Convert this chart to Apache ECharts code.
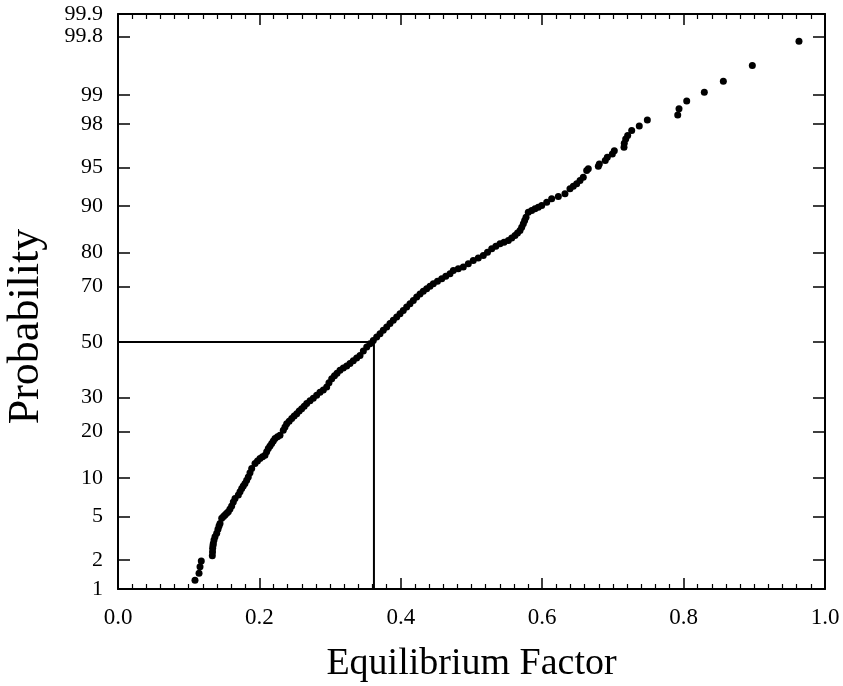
<!DOCTYPE html>
<html>
<head>
<meta charset="utf-8">
<script src="https://cdn.jsdelivr.net/npm/echarts@6/dist/echarts.min.js"></script>
<style>html,body{margin:0;padding:0;background:#fff;}#chart{width:843px;height:686px;}</style>
</head>
<body>
<div id="chart"></div>
<script>
// Equilibrium factor values (x) and cumulative probability in percent (y)
var factor = [
0.1089,0.1146,0.1160,0.1178,
0.1334,0.1337,0.1339,0.1344,0.1348,0.1358,0.1372,0.1396,0.1414,0.1429,
0.1443,0.1467,0.1492,0.1513,0.1537,0.1560,0.1584,0.1608,0.1631,0.1655,
0.1702,0.1726,0.1750,0.1772,0.1796,0.1820,0.1843,0.1867,0.1891,0.1938,
0.1973,0.2008,0.2044,0.2079,0.2103,0.2126,0.2150,0.2174,0.2197,0.2221,
0.2256,0.2291,0.2338,0.2362,0.2386,0.2421,0.2457,0.2492,0.2528,0.2563,
0.2598,0.2634,0.2669,0.2716,0.2762,0.2810,0.2857,0.2904,0.2952,0.2984,
0.3023,0.3062,0.3098,0.3140,0.3187,0.3235,0.3281,0.3328,0.3376,0.3423,
0.3470,0.3518,0.3564,0.3611,0.3659,0.3706,0.3752,0.3801,0.3847,0.3894,
0.3942,0.3989,0.4035,0.4083,0.4130,0.4177,0.4225,0.4272,0.4318,0.4366,
0.4413,0.4460,0.4519,0.4579,0.4636,0.4696,0.4743,0.4813,0.4884,0.4955,
0.5025,0.5096,0.5167,0.5226,0.5286,0.5344,0.5403,0.5460,0.5521,0.5569,
0.5615,0.5651,0.5686,0.5710,0.5733,0.5752,0.5771,0.5803,0.5851,0.5898,
0.5945,0.5993,0.6064,0.6134,0.6228,0.6322,0.6393,0.6440,0.6488,0.6535,
0.6581,0.6629,
0.6652,0.6794,0.6808,0.6892,0.6921,0.6992,0.7020,0.7157,0.7161,0.7181,
0.7209,0.7266,0.7373,0.7487,0.7917,0.7935,0.8044,0.8293,0.8562,0.8972,
0.9632
];
var probability = [
1.24,1.47,1.71,1.96,
2.21,2.40,2.60,2.76,2.89,3.11,3.33,3.58,3.90,4.15,
4.38,4.84,5.01,5.16,5.33,5.49,5.78,6.11,6.58,7.04,
7.47,7.91,8.40,8.76,9.14,9.66,10.2,10.93,11.68,12.63,
13.13,13.63,13.98,14.32,15.06,15.80,16.38,16.96,17.57,18.17,
18.59,19.0,20.3,21.2,22.1,22.8,23.6,24.3,25.0,25.8,
26.5,27.3,28.1,29.0,29.8,30.8,31.8,32.6,33.6,35.1,
36.5,37.5,38.4,39.5,40.3,41.1,42.0,43.0,44.0,45.0,
46.6,48.1,49.4,50.6,51.9,53.1,54.4,55.6,56.9,58.1,
59.3,60.5,61.7,62.9,64.1,65.2,66.4,67.5,68.4,69.2,
70.06,70.85,71.67,72.45,73.24,74.0,75.0,75.5,76.0,76.96,
77.9,78.58,79.27,80.14,81.03,81.65,82.27,82.66,83.07,83.65,
84.23,84.78,85.33,86.04,86.74,87.39,88.02,88.94,89.23,89.53,
89.80,90.08,90.61,91.13,91.48,91.87,92.55,92.88,93.19,93.59,
93.97,94.69,
94.86,95.11,95.33,95.63,95.91,96.18,96.43,96.67,96.94,97.21,
97.41,97.69,97.91,98.18,98.38,98.60,98.84,99.07,99.30,99.54,
99.77
];
// Median marker (50 % probability)
var medianFactor = 0.362;
var medianProbability = 50;
// Probability-axis tick labels (percent)
var probTicks = [1, 2, 5, 10, 20, 30, 50, 70, 80, 90, 95, 98, 99, 99.8, 99.9];
var probTickLabels = ['1','2','5','10','20','30','50','70','80','90','95','98','99','99.8','99.9'];
var probMin = 1, probMax = 99.9;

// inverse standard normal CDF (probability scale transform)
function probit(p) {
  var a=[-3.969683028665376e+01,2.209460984245205e+02,-2.759285104469687e+02,1.383577518672690e+02,-3.066479806614716e+01,2.506628277459239e+00];
  var b=[-5.447609879822406e+01,1.615858368580409e+02,-1.556989798598866e+02,6.680131188771972e+01,-1.328068155288572e+01];
  var c=[-7.784894002430293e-03,-3.223964580411365e-01,-2.400758277161838e+00,-2.549732539343734e+00,4.374664141464968e+00,2.938163982698783e+00];
  var d=[7.784695709041462e-03,3.224671290700398e-01,2.445134137142996e+00,3.754408661907416e+00];
  var pl=0.02425, q, r;
  if (p < pl) { q=Math.sqrt(-2*Math.log(p)); return (((((c[0]*q+c[1])*q+c[2])*q+c[3])*q+c[4])*q+c[5])/((((d[0]*q+d[1])*q+d[2])*q+d[3])*q+1); }
  if (p <= 1-pl) { q=p-0.5; r=q*q; return (((((a[0]*r+a[1])*r+a[2])*r+a[3])*r+a[4])*r+a[5])*q/(((((b[0]*r+b[1])*r+b[2])*r+b[3])*r+b[4])*r+1); }
  q=Math.sqrt(-2*Math.log(1-p)); return -(((((c[0]*q+c[1])*q+c[2])*q+c[3])*q+c[4])*q+c[5])/((((d[0]*q+d[1])*q+d[2])*q+d[3])*q+1);
}
function pz(pct){ return probit(pct/100); }

var tickZ = probTicks.map(pz);
var zMin = pz(probMin), zMax = pz(probMax);
function zLabel(v){
  for (var i=0;i<tickZ.length;i++){ if (Math.abs(tickZ[i]-v)<1e-6) return probTickLabels[i]; }
  return '';
}
var points = factor.map(function(f,i){ return [f, pz(probability[i])]; });
var dropLine = [[0, pz(medianProbability)], [medianFactor, pz(medianProbability)], [medianFactor, zMin]];

var serif = '"Liberation Serif","Times New Roman",serif';
var chart = echarts.init(document.getElementById('chart'), null, {renderer:'canvas'});
var xCommon = {
  type:'value', min:0, max:1, interval:0.2,
  axisLine:{show:true, onZero:false, lineStyle:{color:'#000', width:2}},
  axisTick:{show:true, inside:true, length:11, lineStyle:{color:'#000', width:1.5}},
  minorTick:{show:true, splitNumber:10, length:5, lineStyle:{color:'#000', width:1.2}},
  splitLine:{show:false}
};
var yCommon = {
  type:'value', min:zMin, max:zMax,
  axisLine:{show:true, onZero:false, lineStyle:{color:'#000', width:2}},
  axisTick:{show:true, inside:true, length:12, customValues:tickZ, lineStyle:{color:'#000', width:1.5}},
  splitLine:{show:false}
};
chart.setOption({
  animation:false,
  backgroundColor:'#fff',
  grid:{left:118, right:18, top:14, bottom:97, containLabel:false, outerBoundsMode:'none'},
  xAxis:[
    Object.assign({}, xCommon, {
      position:'bottom',
      name:'Equilibrium Factor', nameLocation:'middle', nameGap:56,
      nameTextStyle:{fontFamily:serif, fontSize:38, color:'#000'},
      axisLabel:{show:true, margin:17, fontFamily:serif, fontSize:23, color:'#000',
        showMinLabel:true, showMaxLabel:true, hideOverlap:false,
        formatter:function(v){ return v.toFixed(1); }}
    }),
    Object.assign({}, xCommon, {position:'top', axisLabel:{show:false}})
  ],
  yAxis:[
    Object.assign({}, yCommon, {
      position:'left',
      name:'Probability', nameLocation:'middle', nameGap:70, nameRotate:90,
      nameTextStyle:{fontFamily:serif, fontSize:44, color:'#000', padding:[0,50,0,0]},
      axisLabel:{show:true, margin:15, fontFamily:serif, fontSize:22, color:'#000',
        showMinLabel:true, showMaxLabel:true, hideOverlap:false,
        customValues:tickZ, formatter:zLabel}
    }),
    Object.assign({}, yCommon, {position:'right', axisLabel:{show:false}})
  ],
  series:[
    {type:'line', data:dropLine, xAxisIndex:0, yAxisIndex:0, symbol:'none', silent:true,
     lineStyle:{color:'#000', width:2}, z:1},
    {type:'scatter', data:points, xAxisIndex:0, yAxisIndex:0, symbol:'circle', symbolSize:7,
     itemStyle:{color:'#000', opacity:1}, z:2}
  ]
});
</script>
</body>
</html>
